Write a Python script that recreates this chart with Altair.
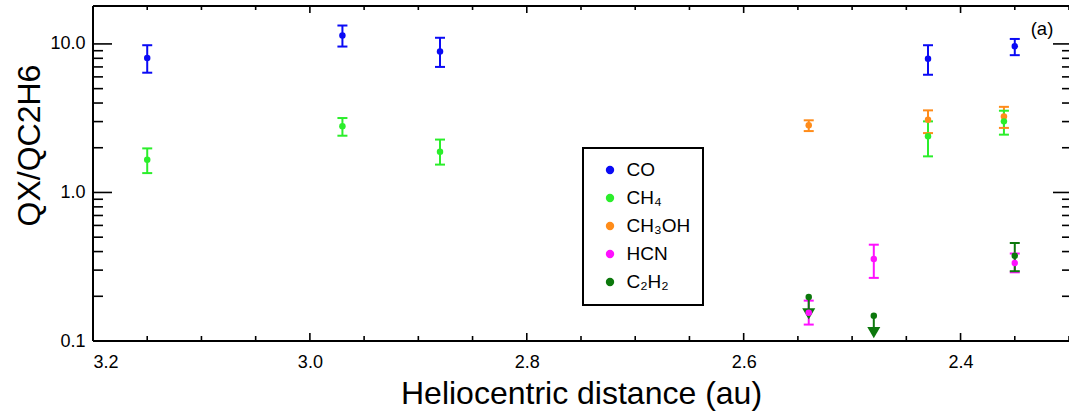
import altair as alt
import pandas as pd

# ---------------- data ----------------
legend_order = ["CO", "CH₄", "CH₃OH", "HCN", "C₂H₂"]
colors = ["#0a0af5", "#2bee2b", "#ff8c1a", "#ff10ff", "#0c780c"]

co_x = [3.15, 2.97, 2.88, 2.43, 2.35]
co_y = [8.05, 11.4, 8.9, 7.96, 9.64]
co_lo = [6.4, 9.6, 7.0, 6.2, 8.4]
co_hi = [9.8, 13.3, 11.0, 9.8, 10.8]

ch4_x = [3.15, 2.97, 2.88, 2.43, 2.36]
ch4_y = [1.66, 2.79, 1.88, 2.39, 3.01]
ch4_lo = [1.35, 2.41, 1.54, 1.75, 2.45]
ch4_hi = [1.98, 3.17, 2.27, 3.01, 3.55]

ch3oh_x = [2.54, 2.43, 2.36]
ch3oh_y = [2.83, 3.09, 3.25]
ch3oh_lo = [2.59, 2.51, 2.72]
ch3oh_hi = [3.06, 3.57, 3.77]

hcn_x = [2.54, 2.48, 2.35]
hcn_y = [0.155, 0.356, 0.335]
hcn_lo = [0.129, 0.266, 0.29]
hcn_hi = [0.187, 0.445, 0.388]

c2h2_x = [2.35]
c2h2_y = [0.375]
c2h2_lo = [0.295]
c2h2_hi = [0.457]

# C2H2 upper limits
c2h2_ul_x = [2.54, 2.48]
c2h2_ul_y = [0.198, 0.148]

x_major = [3.2, 3.0, 2.8, 2.6, 2.4]
x_minor = [3.15, 3.1, 3.05, 2.95, 2.9, 2.85, 2.75, 2.7, 2.65, 2.55, 2.5, 2.45, 2.35, 2.3]
y_major = [0.1, 1.0, 10.0]
y_minor = [m * 10.0 ** e for e in (-1, 0, 1) for m in range(2, 10) if m * 10.0 ** e < 18]

# ---------------- tables ----------------
draw_order = [
    ("CH₃OH", ch3oh_x, ch3oh_y, ch3oh_lo, ch3oh_hi),
    ("CH₄", ch4_x, ch4_y, ch4_lo, ch4_hi),
    ("CO", co_x, co_y, co_lo, co_hi),
    ("HCN", hcn_x, hcn_y, hcn_lo, hcn_hi),
    ("C₂H₂", c2h2_x, c2h2_y, c2h2_lo, c2h2_hi),
]
rows = []
for name, xs, ys, los, his in draw_order:
    for a, b, c, d in zip(xs, ys, los, his):
        rows.append({"sp": name, "x": a, "y": b, "lo": c, "hi": d})
df = pd.DataFrame(rows)
ul = pd.DataFrame({"sp": ["C₂H₂"] * len(c2h2_ul_x), "x": c2h2_ul_x, "y": c2h2_ul_y})
pts = pd.concat([df[["sp", "x", "y"]], ul], ignore_index=True)

W, H = 976, 335
FONT = "Liberation Sans"

xs_ = alt.Scale(domain=[2.3, 3.2], reverse=True, nice=False, zero=False)
ys_ = alt.Scale(type="log", domain=[0.1, 18], nice=False)
cs_ = alt.Scale(domain=legend_order, range=colors)

xaxis = alt.Axis(values=x_major, format=".1f", tickSize=0, domain=False, grid=False,
                 labelPadding=12, labelFontSize=18, labelFont=FONT, labelColor="black",
                 title="Heliocentric distance (au)", titleFontSize=32, titleFont=FONT,
                 titleFontWeight="normal", titleColor="black", titlePadding=7)
yaxis = alt.Axis(values=y_major, format=".1f", tickSize=0, domain=False, grid=False,
                 labelPadding=8, labelFontSize=18, labelFont=FONT, labelColor="black",
                 title="QX/QC2H6", titleFontSize=32, titleFont=FONT,
                 titleFontWeight="normal", titleColor="black",
                 titleX=-64, titleY=139, titleAlign="center", titleBaseline="middle")

X = lambda f: alt.X(f, type="quantitative", scale=xs_, axis=xaxis)
Y = lambda f: alt.Y(f, type="quantitative", scale=ys_, axis=yaxis)

one = pd.DataFrame({"a": [0]})
frame = alt.layer(
    alt.Chart(one).mark_rule(color="black", strokeWidth=2).encode(
        x=alt.value(0), y=alt.value(0), y2=alt.value(H)),
    alt.Chart(one).mark_rule(color="black", strokeWidth=2).encode(
        x=alt.value(0), x2=alt.value(W), y=alt.value(0)),
    alt.Chart(one).mark_rule(color="black", strokeWidth=2).encode(
        x=alt.value(0), x2=alt.value(W), y=alt.value(H)),
)

xmaj = pd.DataFrame({"v": x_major})
xmin = pd.DataFrame({"v": x_minor})
ymaj = pd.DataFrame({"v": y_major})
ymin = pd.DataFrame({"v": y_minor})
tk = dict(color="black", strokeWidth=1.6)
ticks = alt.layer(
    alt.Chart(xmaj).mark_rule(**tk).encode(x=X("v"), y=alt.value(H), y2=alt.value(H - 8)),
    alt.Chart(xmin).mark_rule(**tk).encode(x=X("v"), y=alt.value(H), y2=alt.value(H - 5)),
    alt.Chart(xmaj).mark_rule(**tk).encode(x=X("v"), y=alt.value(0), y2=alt.value(7)),
    alt.Chart(xmin).mark_rule(**tk).encode(x=X("v"), y=alt.value(0), y2=alt.value(4)),
    alt.Chart(ymaj).mark_rule(**tk).encode(y=Y("v"), x=alt.value(0), x2=alt.value(19)),
    alt.Chart(ymin).mark_rule(**tk).encode(y=Y("v"), x=alt.value(0), x2=alt.value(10)),
    alt.Chart(ymaj).mark_rule(**tk).encode(y=Y("v"), x=alt.value(W - 16), x2=alt.value(W)),
    alt.Chart(ymin).mark_rule(**tk).encode(y=Y("v"), x=alt.value(W - 7), x2=alt.value(W)),
)

col_nolegend = alt.Color("sp:N", scale=cs_, legend=None)

bars = alt.Chart(df).mark_rule(strokeWidth=2).encode(
    x=X("x"), y=Y("lo"), y2="hi", color=col_nolegend)
cap_lo = alt.Chart(df).mark_rule(strokeWidth=2, xOffset=-5, x2Offset=5).encode(
    x=X("x"), x2="x", y=Y("lo"), color=col_nolegend)
cap_hi = alt.Chart(df).mark_rule(strokeWidth=2, xOffset=-5, x2Offset=5).encode(
    x=X("x"), x2="x", y=Y("hi"), color=col_nolegend)

points = alt.Chart(pts).mark_circle(size=42, opacity=1).encode(
    x=X("x"), y=Y("y"),
    color=alt.Color("sp:N", scale=cs_,
                    legend=alt.Legend(title=None, orient="none", legendX=490, legendY=142,
                                      symbolType="circle", symbolSize=70, labelFontSize=19,
                                      labelFont=FONT, labelColor="black", rowPadding=8,
                                      padding=12.5, symbolOffset=5, labelOffset=7,
                                      strokeColor="black", fillColor="white",
                                      symbolStrokeWidth=0)),
)

arrow_line = alt.Chart(ul).mark_rule(strokeWidth=2, y2Offset=20).encode(
    x=X("x"), y=Y("y"), y2="y", color=col_nolegend)
arrow_head = alt.Chart(ul).mark_point(shape="triangle-down", filled=True, size=170,
                                      yOffset=17, opacity=1).encode(
    x=X("x"), y=Y("y"), color=col_nolegend)

label_a = alt.Chart(one).mark_text(text="(a)", fontSize=18.5, font=FONT, color="black",
                                   align="center", baseline="middle").encode(
    x=alt.value(949), y=alt.value(23))

chart = alt.layer(frame, ticks, bars, cap_lo, cap_hi, arrow_line, arrow_head, points, label_a).properties(
    width=W, height=H,
    autosize=alt.AutoSizeParams(type="none"),
    padding={"left": 93, "top": 6, "right": 0, "bottom": 73},
).resolve_legend(color="independent").configure_view(stroke=None).configure_legend(strokeWidth=2)

chart.save("out.html", embed_options={"renderer": "svg", "actions": False})
